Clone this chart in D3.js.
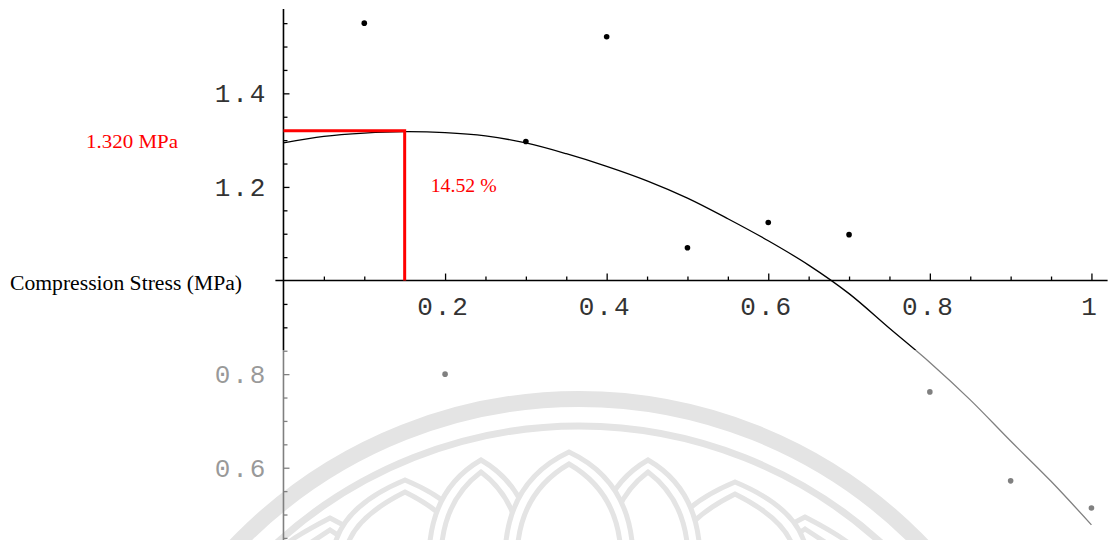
<!DOCTYPE html>
<html>
  <head>
    <title>Compression Stress vs Strain</title>
    <script src="https://d3js.org/d3.v7.min.js"></script>
    <style>
      body { margin: 0; background: #fff; }
      .tick text {
        font-family: "Liberation Mono", monospace;
        font-size: 26px;
        letter-spacing: 2px;
        fill: #333;
      }
      .tick line { stroke: #000; stroke-width: 1.3; }
      .axis-line { stroke: #000; stroke-width: 1.6; }
      .serif { font-family: "Liberation Serif", "Times New Roman", serif; }
    </style>
  </head>
  <body>
    <svg width="1113" height="540"></svg>
    <script>
      // tick values
      const xMajor = [0.2, 0.4, 0.6, 0.8, 1];
      const yMajor = [0.6, 0.8, 1.2, 1.4];
      const minorStep = 0.05;

      // measured points (strain, stress MPa)
      const strain = [0.1, 0.2, 0.3, 0.4, 0.5, 0.6, 0.7, 0.8, 0.9, 1.0];
      const stress = [1.550, 0.800, 1.297, 1.521, 1.070, 1.124, 1.098, 0.762, 0.572, 0.514];

      // fitted curve
      const fitX = [0, 0.05, 0.1, 0.15, 0.2, 0.25, 0.3, 0.35, 0.4, 0.45, 0.5,
                    0.55, 0.6, 0.65, 0.7, 0.75, 0.8, 0.85, 0.9, 0.95, 1.0];
      const fitY = [1.294, 1.308, 1.315, 1.318, 1.316, 1.309, 1.294, 1.271, 1.244, 1.213, 1.176,
                    1.132, 1.085, 1.033, 0.972, 0.898, 0.825, 0.745, 0.657, 0.571, 0.478];

      // peak marker
      const peakStress = 1.320;
      const peakStrainPos = 0.15;
      const peakStressLabel = "1.320 MPa";
      const peakStrainLabel = "14.52 %";
      const yTitle = "Compression Stress (MPa)";

      const svg = d3.select("svg");
      const x = d3.scaleLinear().domain([-0.01, 1.02]).range([275.4, 1107.6]);
      const y = d3.scaleLinear().domain([0.44, 1.58]).range([542.6, 9.1]);

      // watermark emblem (drawn first, faded later by the overlay)
      const wm = svg.append("g").attr("fill", "none").attr("stroke", "#c8c8c8");
      wm.append("circle").attr("cx", 579).attr("cy", 875).attr("r", 476).attr("stroke-width", 16);
      wm.append("circle").attr("cx", 579).attr("cy", 875).attr("r", 449).attr("stroke-width", 7);
      const petals = [
        [330, 518, 58], [805, 517, 58],
        [405, 480, 72], [735, 482, 72],
        [481, 460, 52], [648, 460, 52],
        [569, 452, 64]
      ];
      const petal = (px, py, w) =>
        `M${px - w},560 Q${px - w},${py + 30} ${px},${py} Q${px + w},${py + 30} ${px + w},560`;
      petals.forEach(([px, py, w]) => {
        wm.append("path").attr("d", petal(px, py, w))
          .attr("fill", "#fff").attr("stroke-width", 5);
        wm.append("path").attr("d", petal(px, py + 12, w - 12))
          .attr("stroke-width", 5);
      });

      const minorTicks = (lo, hi) => d3.range(Math.round(lo / minorStep), Math.round(hi / minorStep) + 1)
        .map(i => +(i * minorStep).toFixed(2));

      const xMinor = minorTicks(0.05, 1).filter(v => !xMajor.includes(v));
      const yMinor = minorTicks(0.45, 1.55).filter(v => !yMajor.includes(v) && v !== 1);

      svg.append("g")
        .attr("transform", `translate(0,${y(1)})`)
        .call(d3.axisBottom(x).tickValues(xMinor).tickSize(-4).tickFormat(""))
        .call(g => g.select(".domain").remove());
      svg.append("g")
        .attr("transform", `translate(0,${y(1)})`)
        .call(d3.axisBottom(x).tickValues(xMajor).tickSize(-7).tickPadding(16)
          .tickFormat(d => d === 1 ? "1" : d3.format(".1f")(d)))
        .call(g => g.select(".domain").remove())
        .call(g => g.selectAll("text").attr("dx", -2));

      svg.append("g")
        .attr("transform", `translate(${x(0)},0)`)
        .call(d3.axisLeft(y).tickValues(yMinor).tickSize(-4).tickFormat(""))
        .call(g => g.select(".domain").remove());
      svg.append("g")
        .attr("transform", `translate(${x(0)},0)`)
        .call(d3.axisLeft(y).tickValues(yMajor).tickSize(-6).tickPadding(16).tickFormat(d3.format(".1f")))
        .call(g => g.select(".domain").remove());

      // axis lines
      svg.append("line").attr("class", "axis-line")
        .attr("x1", x.range()[0]).attr("x2", x.range()[1])
        .attr("y1", y(1)).attr("y2", y(1));
      svg.append("line").attr("class", "axis-line")
        .attr("x1", x(0)).attr("x2", x(0))
        .attr("y1", y.range()[1]).attr("y2", y.range()[0]);

      svg.append("text").attr("class", "serif")
        .attr("x", 10).attr("y", y(1) + 9)
        .attr("font-size", 20)
        .attr("textLength", 232).attr("lengthAdjust", "spacingAndGlyphs")
        .attr("fill", "#000")
        .text(yTitle);

      // fitted curve
      svg.append("path")
        .datum(fitX.map((d, i) => [d, fitY[i]]))
        .attr("fill", "none").attr("stroke", "#000").attr("stroke-width", 1.3)
        .attr("d", d3.line().x(d => x(d[0])).y(d => y(d[1])).curve(d3.curveCatmullRom));

      // peak marker
      svg.append("path")
        .attr("fill", "none").attr("stroke", "#ff0000").attr("stroke-width", 3)
        .attr("d", `M${x(0)},${y(peakStress)}H${x(peakStrainPos)}V${y(1)}`);
      svg.append("text").attr("class", "serif")
        .attr("x", 86).attr("y", y(peakStress) + 17)
        .attr("font-size", 18).attr("fill", "#ff0000")
        .attr("textLength", 92).attr("lengthAdjust", "spacingAndGlyphs")
        .text(peakStressLabel);
      svg.append("text").attr("class", "serif")
        .attr("x", x(peakStrainPos) + 26).attr("y", 192)
        .attr("font-size", 18).attr("fill", "#ff0000")
        .attr("textLength", 66).attr("lengthAdjust", "spacingAndGlyphs")
        .text(peakStrainLabel);

      // data points
      svg.append("g").selectAll("circle")
        .data(strain.map((d, i) => [d, stress[i]]))
        .join("circle")
          .attr("cx", d => x(d[0]))
          .attr("cy", d => y(d[1]))
          .attr("r", 2.8)
          .attr("fill", "#000");

      // faded lower part under the watermark
      svg.append("rect")
        .attr("x", 0).attr("y", 350).attr("width", 1113).attr("height", 190)
        .attr("fill", "#fff").attr("opacity", 0.5);
    </script>
  </body>
</html>
